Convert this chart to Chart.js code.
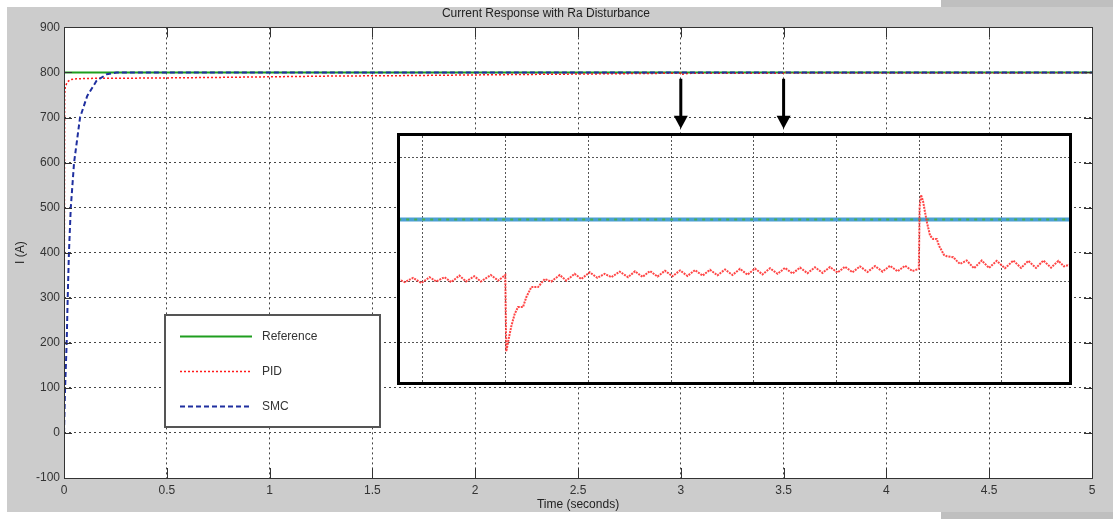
<!DOCTYPE html>
<html>
<head>
<meta charset="utf-8">
<script src="https://cdn.jsdelivr.net/npm/chart.js@4.4.1/dist/chart.umd.min.js"></script>
<style>
  html, body { margin: 0; padding: 0; background: #fff; }
  body { width: 1113px; height: 519px; position: relative; overflow: hidden; }
  #fig { position: absolute; left: 7px; top: 7px; width: 1106px; height: 505px; background: #cccccc; }
  #strip-top { position: absolute; left: 941px; top: 0; width: 172px; height: 7px; background: #bfbfbf; }
  #strip-bottom { position: absolute; left: 941px; top: 512px; width: 172px; height: 7px; background: #bfbfbf; }
  #main { position: absolute; left: 0; top: 0; }
  #inset-wrap { position: absolute; left: 397px; top: 133px; width: 669px; height: 246px; border: 3px solid #000; background: #fff; }
  #inset { display: block; }
</style>
</head>
<body>
<div id="fig"></div>
<div id="strip-top"></div>
<div id="strip-bottom"></div>
<canvas id="main" width="1113" height="519"></canvas>
<div id="inset-wrap"><canvas id="inset" width="669" height="246"></canvas></div>

<script>
// axis ticks
const xTicks = [0, 0.5, 1, 1.5, 2, 2.5, 3, 3.5, 4, 4.5, 5];
const yTicks = [-100, 0, 100, 200, 300, 400, 500, 600, 700, 800, 900];

// main plot (time in s, current in A)
const refTime = [0, 5];
const refCurrent = [800, 800];

const pidTime = [0, 0.003, 0.006, 0.015, 0.03, 0.06, 0.15, 0.4, 0.75, 1.3, 1.65, 2.1, 2.5, 2.9,
  3.0, 3.0007, 3.03, 3.05, 3.3, 3.4995, 3.5022, 3.52, 3.55, 4.0, 4.5, 5.0];
const pidCurrent = [0, 750, 768, 778, 784, 786, 787, 787.5, 789, 792, 793, 795, 796.5, 798.0,
  798.2, 795.7, 797.5, 798.1, 798.3, 798.4, 800.8, 799.4, 798.6, 798.8, 799.0, 799.2];

const smcTime = [0, 0.005, 0.013, 0.018, 0.024, 0.033, 0.049, 0.078, 0.113, 0.159, 0.208, 0.256, 5];
const smcCurrent = [0, 95, 200, 300, 400, 500, 600, 700, 748, 782, 796, 800, 800];

// disturbance arrows (time, from current down to current)
const arrowTimes = [3, 3.5];
const arrowFrom = 786;
const arrowTo = 675;

// zoomed inset
const insetXTicks = [2.9, 3.0, 3.1, 3.2, 3.3, 3.4, 3.5, 3.6];
const insetYTicks = [796, 798, 800, 802];
const insetRefTime = [2.87, 3.6836];
const insetRef = [800, 800];

const insetTime = [
  2.870, 2.878, 2.888, 2.898, 2.908, 2.916, 2.926, 2.934, 2.944, 2.952, 2.962, 2.970, 2.982, 2.991, 2.9995,
  3.0007, 3.0036, 3.0068, 3.0109, 3.0149, 3.0209, 3.0249, 3.0310, 3.0391, 3.0472,
  3.0551, 3.0653, 3.0733, 3.0834, 3.0914, 3.1016, 3.1108, 3.1197, 3.1277, 3.1378, 3.1479,
  3.1563, 3.1654, 3.1745, 3.1836, 3.1926, 3.2017, 3.2108, 3.2198, 3.2289, 3.2380, 3.2470, 3.2561, 3.2652, 3.2742,
  3.2833, 3.2924, 3.3014, 3.3105, 3.3196, 3.3287, 3.3377, 3.3468, 3.3559, 3.3649, 3.3740, 3.3831, 3.3921, 3.4012,
  3.4103, 3.4193, 3.4284, 3.4375, 3.4466, 3.4556, 3.4647, 3.4738, 3.4828, 3.4919, 3.4995,
  3.5005, 3.5022, 3.5046, 3.5070, 3.5094, 3.5131, 3.5167, 3.5212, 3.5239, 3.5272, 3.5300, 3.5332, 3.5412, 3.5457, 3.5493,
  3.5574, 3.5662, 3.5756, 3.5844, 3.5937, 3.6037, 3.6138, 3.6231, 3.6319, 3.6412, 3.6501, 3.6594, 3.6682, 3.6751, 3.6836
];
const insetPid = [
  798.07, 797.97, 798.11, 797.94, 798.13, 797.99, 798.13, 797.97, 798.18, 797.99, 798.16, 797.99, 798.20, 798.02, 798.20,
  795.72, 796.13, 796.54, 796.94, 797.16, 797.16, 797.48, 797.81, 797.81, 798.07,
  797.99, 798.20, 798.02, 798.24, 798.07, 798.29, 798.11, 798.24, 798.13, 798.31, 798.13,
  798.32, 798.14, 798.33, 798.15, 798.34, 798.16, 798.35, 798.17, 798.36, 798.18, 798.37, 798.19, 798.38, 798.20,
  798.40, 798.21, 798.41, 798.22, 798.42, 798.24, 798.43, 798.25, 798.44, 798.26, 798.45, 798.27, 798.46, 798.28,
  798.47, 798.29, 798.48, 798.30, 798.49, 798.31, 798.50, 798.32, 798.50, 798.33, 798.40,
  800.40, 800.80, 800.60, 800.24, 799.90, 799.48, 799.37, 799.37, 799.15, 798.99, 798.85, 798.81, 798.78, 798.65, 798.56,
  798.67, 798.42, 798.67, 798.43, 798.66, 798.42, 798.67, 798.43, 798.66, 798.43, 798.67, 798.44, 798.66, 798.48, 798.55
];

Chart.defaults.font.family = '"Liberation Sans", Arial, sans-serif';

function pts(t, v) {
  return t.map((x, i) => ({ x: x, y: v[i] }));
}

const plotBg = {
  id: 'plotBg',
  beforeDraw(chart) {
    const a = chart.chartArea, ctx = chart.ctx;
    ctx.save();
    ctx.fillStyle = '#fff';
    ctx.fillRect(a.left, a.top, a.right - a.left, a.bottom - a.top);
    ctx.restore();
  }
};

// matlab style box with inward ticks
const frame = {
  id: 'frame',
  afterDraw(chart) {
    const a = chart.chartArea, ctx = chart.ctx;
    const xs = chart.scales.x, ys = chart.scales.y;
    ctx.save();
    ctx.strokeStyle = '#333';
    ctx.lineWidth = 1;
    ctx.strokeRect(Math.round(a.left) + 0.5, Math.round(a.top) + 0.5, Math.round(a.right - a.left), Math.round(a.bottom - a.top));
    ctx.beginPath();
    xTicks.forEach(v => {
      const px = Math.round(xs.getPixelForValue(v)) + 0.5;
      ctx.moveTo(px, a.bottom); ctx.lineTo(px, a.bottom - 10);
      ctx.moveTo(px, a.top); ctx.lineTo(px, a.top + 10);
    });
    yTicks.forEach(v => {
      const py = Math.round(ys.getPixelForValue(v)) + 0.5;
      ctx.moveTo(a.left, py); ctx.lineTo(a.left + 8, py);
      ctx.moveTo(a.right, py); ctx.lineTo(a.right - 8, py);
    });
    ctx.stroke();
    ctx.restore();
  }
};

const arrows = {
  id: 'arrows',
  afterDatasetsDraw(chart) {
    const xs = chart.scales.x, ys = chart.scales.y, ctx = chart.ctx;
    const y0 = ys.getPixelForValue(arrowFrom), y1 = ys.getPixelForValue(arrowTo);
    ctx.save();
    ctx.strokeStyle = '#000';
    ctx.fillStyle = '#000';
    ctx.lineWidth = 3;
    arrowTimes.forEach(t => {
      const px = xs.getPixelForValue(t);
      ctx.beginPath();
      ctx.moveTo(px, y0);
      ctx.lineTo(px, y1 - 10);
      ctx.stroke();
      ctx.beginPath(); // head
      ctx.moveTo(px - 7, y1 - 13);
      ctx.lineTo(px + 7, y1 - 13);
      ctx.lineTo(px, y1);
      ctx.closePath();
      ctx.fill();
    });
    ctx.restore();
  }
};

// legend box inside the axes, like matlab
const boxLegend = {
  id: 'boxLegend',
  afterDraw(chart) {
    const a = chart.chartArea, ctx = chart.ctx;
    const w = a.right - a.left, h = a.bottom - a.top;
    const left = Math.round(a.left + 0.098 * w), right = Math.round(a.left + 0.307 * w);
    const top = Math.round(a.top + 0.639 * h), bottom = Math.round(a.top + 0.887 * h);
    ctx.save();
    ctx.fillStyle = '#fff';
    ctx.fillRect(left, top, right - left, bottom - top);
    ctx.strokeStyle = '#555';
    ctx.lineWidth = 2;
    ctx.strokeRect(left, top, right - left, bottom - top);
    ctx.font = '12px "Liberation Sans", Arial, sans-serif';
    ctx.textBaseline = 'middle';
    ctx.fillStyle = '#333';
    chart.data.datasets.forEach((ds, i) => {
      const y = Math.round(top + 21 + i * 35) + 0.5;
      ctx.save();
      ctx.strokeStyle = ds.borderColor;
      ctx.lineWidth = ds.borderWidth;
      ctx.setLineDash(ds.borderDash || []);
      ctx.beginPath();
      ctx.moveTo(left + 15, y);
      ctx.lineTo(left + 87, y);
      ctx.stroke();
      ctx.restore();
      ctx.fillText(ds.label, left + 97, y);
    });
    ctx.restore();
  }
};

new Chart(document.getElementById('main'), {
  type: 'line',
  data: {
    datasets: [
      { label: 'Reference', data: pts(refTime, refCurrent), borderColor: '#1f9e1f', borderWidth: 2, order: 2 },
      { label: 'PID', data: pts(pidTime, pidCurrent), borderColor: '#ff1a1a', borderWidth: 1.5, borderDash: [2, 2], order: 1 },
      { label: 'SMC', data: pts(smcTime, smcCurrent), borderColor: '#1f2f9f', borderWidth: 2, borderDash: [5, 3], order: 0 }
    ]
  },
  options: {
    responsive: false,
    animation: false,
    layout: { padding: { left: 0, right: 21, top: 0, bottom: 0 } },
    elements: { point: { radius: 0 }, line: { tension: 0 } },
    plugins: {
      legend: { display: false },
      tooltip: { enabled: false },
      title: {
        display: true,
        text: 'Current Response with Ra Disturbance',
        color: '#222',
        font: { size: 12, weight: 'normal' },
        padding: { top: 6, bottom: 7 }
      }
    },
    scales: {
      x: {
        type: 'linear', min: 0, max: 5,
        afterBuildTicks: s => { s.ticks = xTicks.map(v => ({ value: v })); },
        afterFit: s => { s.height = 41; },
        grid: { color: '#444', drawTicks: false },
        border: { display: false, dash: [2, 3] },
        ticks: { color: '#333', font: { size: 12 }, padding: 5, maxRotation: 0, autoSkip: false, callback: v => String(v) },
        title: { display: true, text: 'Time (seconds)', color: '#222', font: { size: 12 }, padding: { top: 0, bottom: 7 } }
      },
      y: {
        min: -100, max: 900,
        afterBuildTicks: s => { s.ticks = yTicks.map(v => ({ value: v })); },
        afterFit: s => { s.width = 64; },
        grid: { color: '#444', drawTicks: false },
        border: { display: false, dash: [2, 3] },
        ticks: { color: '#333', font: { size: 12 }, padding: 4, callback: v => String(v) },
        title: { display: true, text: 'I (A)', color: '#222', font: { size: 12 }, padding: { top: 13, bottom: 0 } }
      }
    }
  },
  plugins: [plotBg, arrows, frame, boxLegend]
});

new Chart(document.getElementById('inset'), {
  type: 'line',
  data: {
    datasets: [
      { label: 'Reference', data: pts(insetRefTime, insetRef), borderColor: '#4caf50', borderWidth: 2, borderDash: [3, 5], order: 1 },
      { label: 'PID', data: pts(insetTime, insetPid), borderColor: 'rgba(255,50,50,0.9)', borderWidth: 2, borderDash: [2, 1], order: 0 },
      { label: 'SMC', data: pts(insetRefTime, insetRef), borderColor: '#4b9fd5', borderWidth: 4, order: 2 }
    ]
  },
  options: {
    responsive: false,
    animation: false,
    layout: { padding: 0 },
    elements: { point: { radius: 0 }, line: { tension: 0 } },
    plugins: { legend: { display: false }, tooltip: { enabled: false } },
    scales: {
      x: {
        type: 'linear', min: 2.8722, max: 3.6811,
        afterBuildTicks: s => { s.ticks = insetXTicks.map(v => ({ value: v })); },
        grid: { color: '#555', drawTicks: false },
        border: { display: false, dash: [2, 2] },
        ticks: { display: false }
      },
      y: {
        min: 794.73, max: 802.71,
        afterBuildTicks: s => { s.ticks = insetYTicks.map(v => ({ value: v })); },
        grid: { color: '#555', drawTicks: false },
        border: { display: false, dash: [2, 2] },
        ticks: { display: false }
      }
    }
  }
});
</script>
</body>
</html>
